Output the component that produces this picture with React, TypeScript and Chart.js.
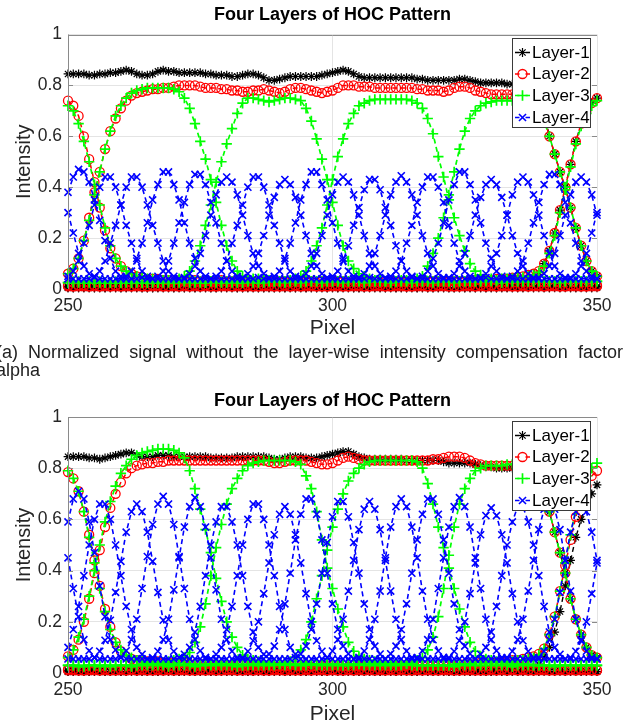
import React, { useEffect, useRef } from 'react';
import { Chart, registerables } from 'chart.js';

Chart.register(...registerables);

const FONT = "'Liberation Sans', Arial, Helvetica, sans-serif";
Chart.defaults.font.family = FONT;

// ---------- categories / ticks / labels ----------
const PIXEL = [
  250, 251, 252, 253, 254, 255, 256, 257, 258, 259,
  260, 261, 262, 263, 264, 265, 266, 267, 268, 269,
  270, 271, 272, 273, 274, 275, 276, 277, 278, 279,
  280, 281, 282, 283, 284, 285, 286, 287, 288, 289,
  290, 291, 292, 293, 294, 295, 296, 297, 298, 299,
  300, 301, 302, 303, 304, 305, 306, 307, 308, 309,
  310, 311, 312, 313, 314, 315, 316, 317, 318, 319,
  320, 321, 322, 323, 324, 325, 326, 327, 328, 329,
  330, 331, 332, 333, 334, 335, 336, 337, 338, 339,
  340, 341, 342, 343, 344, 345, 346, 347, 348, 349,
  350,
];
const Y_TICK_LABELS = ['0', '0.2', '0.4', '0.6', '0.8', '1'];
const TITLE = 'Four Layers of HOC Pattern';
const LEGEND_LABELS = ['Layer-1', 'Layer-2', 'Layer-3', 'Layer-4'];
const Y_TITLE = 'Intensity';
const X_TITLE = 'Pixel';
const CAPTION = '(a) Normalized signal without the layer-wise intensity compensation factor alpha';

// ================= PANEL (a) =================
// Layer-1 (black)
const A_K1 = [
  .845, .845, .845, .845, .84, .84, .845, .845, .85, .85,
  .855, .86, .855, .845, .84, .84, .845, .855, .86, .855,
  .855, .85, .85, .85, .85, .85, .845, .845, .84, .84,
  .84, .835, .835, .84, .845, .845, .84, .83, .82, .82,
  .825, .83, .835, .835, .835, .835, .835, .835, .84, .845,
  .85, .855, .86, .855, .845, .835, .83, .83, .83, .83,
  .83, .83, .83, .83, .83, .83, .825, .825, .82, .82,
  .82, .82, .82, .82, .825, .825, .82, .815, .81, .81,
  .81, .81, .81, .805, .805, .80, .80, .80, .79, .76,
  .69, .60, .53, .46, .40, .32, .24, .17, .11, .07,
  .05,
];
const A_K2 = [
  .005, .005, .01, .005, .005, .005, .01, .005, .005, .005,
  .005, .005, .005, .01, .005, .005, .005, .005, .01, .005,
  .005, .005, .005, .005, .005, .01, .005, .005, .005, .005,
  .005, .01, .005, .005, .005, .005, .005, .005, .01, .005,
  .005, .005, .005, .005, .01, .005, .005, .005, .005, .005,
  .01, .005, .005, .005, .005, .005, .005, .01, .005, .005,
  .005, .005, .005, .01, .005, .005, .005, .005, .005, .005,
  .005, .01, .005, .005, .005, .005, .005, .005, .01, .005,
  .005, .005, .005, .01, .01, .015, .02, .03, .045, .065,
  .10, .15, .22, .31, .40, .49, .58, .65, .70, .73,
  .75,
];
const A_K3 = [
  .01, .005, .005, .005, .01, .005, .005, .005, .005, .01,
  .005, .005, .01, .005, .005, .005, .005, .01, .005, .005,
  .005, .01, .005, .005, .005, .005, .01, .005, .005, .005,
  .01, .005, .005, .005, .005, .01, .005, .005, .005, .005,
  .005, .005, .01, .005, .005, .005, .005, .005, .01, .005,
  .005, .005, .005, .01, .005, .005, .005, .005, .005, .01,
  .005, .005, .005, .005, .005, .01, .005, .005, .005, .005,
  .01, .005, .005, .005, .005, .005, .01, .005, .005, .005,
  .005, .005, .01, .005, .005, .005, .005, .01, .005, .005,
  .005, .005, .005, .005, .01, .005, .005, .005, .005, .005,
  .005,
];
const A_K4 = [
  .005, .005, .005, .01, .005, .005, .005, .005, .01, .005,
  .005, .01, .005, .005, .005, .005, .005, .005, .005, .01,
  .005, .005, .005, .01, .005, .005, .005, .005, .005, .01,
  .005, .005, .005, .005, .01, .005, .005, .005, .005, .005,
  .01, .005, .005, .005, .005, .005, .01, .005, .005, .005,
  .005, .005, .01, .005, .005, .005, .005, .005, .01, .005,
  .005, .01, .005, .005, .005, .005, .005, .01, .005, .005,
  .005, .005, .005, .005, .01, .005, .005, .005, .005, .005,
  .01, .005, .005, .005, .005, .005, .005, .005, .005, .01,
  .005, .005, .01, .005, .005, .005, .005, .01, .005, .005,
  .01,
];
// Layer-2 (red)
const A_R1 = [
  .74, .72, .68, .60, .51, .42, .32, .23, .16, .12,
  .09, .07, .06, .05, .045, .04, .04, .04, .035, .035,
  .035, .035, .03, .03, .035, .03, .03, .03, .03, .035,
  .03, .03, .03, .03, .03, .03, .025, .03, .03, .03,
  .03, .03, .025, .03, .03, .03, .03, .025, .03, .03,
  .03, .03, .03, .025, .03, .03, .03, .03, .03, .025,
  .03, .03, .03, .03, .03, .025, .03, .03, .03, .03,
  .03, .03, .03, .03, .03, .03, .03, .035, .035, .035,
  .035, .04, .04, .04, .045, .045, .05, .055, .06, .07,
  .10, .15, .22, .31, .40, .49, .58, .65, .70, .73,
  .75,
];
const A_R2 = [
  .06, .08, .12, .19, .28, .38, .46, .55, .62, .67,
  .71, .74, .76, .77, .775, .78, .785, .785, .79, .79,
  .795, .80, .80, .80, .80, .795, .79, .79, .79, .785,
  .785, .78, .78, .775, .775, .78, .78, .785, .78, .775,
  .77, .775, .785, .79, .79, .785, .78, .775, .77, .775,
  .78, .79, .80, .80, .80, .795, .795, .795, .79, .79,
  .79, .79, .79, .79, .79, .79, .785, .785, .78, .78,
  .78, .775, .78, .79, .795, .795, .79, .78, .775, .77,
  .765, .765, .765, .765, .765, .765, .765, .76, .75, .73,
  .67, .60, .53, .46, .40, .32, .24, .17, .11, .07,
  .05,
];
const A_R3 = [
  .015, .01, .01, .015, .01, .01, .01, .015, .01, .01,
  .01, .015, .01, .01, .01, .01, .015, .01, .01, .01,
  .015, .01, .01, .01, .015, .01, .01, .01, .01, .015,
  .01, .01, .015, .01, .01, .01, .01, .015, .01, .01,
  .01, .015, .01, .01, .01, .015, .01, .01, .01, .01,
  .015, .01, .01, .01, .01, .015, .01, .01, .015, .01,
  .01, .01, .015, .01, .01, .01, .01, .015, .01, .01,
  .01, .015, .01, .01, .01, .01, .015, .01, .01, .01,
  .015, .01, .01, .015, .01, .01, .01, .01, .015, .01,
  .01, .01, .015, .01, .01, .01, .015, .01, .01, .01,
  .015,
];
const A_R4 = [
  .01, .01, .015, .01, .01, .015, .01, .01, .01, .015,
  .01, .01, .01, .015, .01, .01, .01, .015, .01, .01,
  .01, .01, .015, .01, .01, .01, .015, .01, .01, .01,
  .015, .01, .01, .01, .015, .01, .01, .01, .015, .01,
  .01, .01, .01, .015, .01, .01, .015, .01, .01, .01,
  .01, .015, .01, .01, .015, .01, .01, .01, .01, .015,
  .01, .01, .01, .015, .01, .01, .015, .01, .01, .01,
  .015, .01, .01, .01, .01, .015, .01, .01, .015, .01,
  .01, .01, .015, .01, .01, .01, .015, .01, .01, .015,
  .01, .015, .01, .01, .01, .015, .01, .01, .01, .015,
  .01,
];
// Layer-3 (green)
const A_G1 = [
  .72, .70, .65, .58, .50, .41, .33, .24, .17, .12,
  .09, .07, .06, .05, .045, .04, .04, .035, .035, .035,
  .03, .03, .03, .03, .03, .03, .025, .03, .03, .03,
  .03, .03, .03, .025, .03, .03, .03, .03, .03, .03,
  .03, .025, .03, .03, .03, .03, .03, .03, .025, .03,
  .03, .03, .03, .03, .03, .03, .025, .03, .03, .03,
  .03, .03, .03, .035, .035, .035, .04, .05, .09, .14,
  .20, .28, .37, .46, .55, .62, .67, .70, .72, .73,
  .735, .74, .74, .74, .74, .74, .74, .74, .73, .71,
  .66, .60, .53, .46, .40, .32, .24, .17, .11, .07,
  .05,
];
const A_G2 = [
  .06, .08, .12, .19, .27, .37, .46, .55, .62, .68,
  .72, .75, .77, .78, .785, .79, .79, .79, .79, .79,
  .785, .775, .75, .71, .65, .58, .51, .43, .34, .25,
  .17, .11, .07, .05, .045, .04, .04, .035, .035, .03,
  .03, .03, .03, .03, .025, .03, .03, .03, .03, .03,
  .03, .03, .025, .03, .03, .03, .03, .03, .03, .03,
  .03, .025, .03, .03, .03, .03, .03, .03, .03, .025,
  .03, .03, .03, .03, .03, .03, .03, .03, .03, .035,
  .035, .035, .04, .04, .04, .045, .045, .05, .055, .065,
  .09, .14, .21, .30, .39, .48, .57, .64, .69, .72,
  .74,
];
const A_G3 = [
  .025, .025, .03, .025, .025, .025, .03, .025, .025, .025,
  .025, .03, .025, .025, .025, .025, .03, .025, .025, .03,
  .035, .04, .05, .07, .11, .17, .25, .33, .42, .50,
  .57, .63, .69, .73, .75, .75, .745, .74, .735, .74,
  .745, .75, .75, .745, .74, .71, .66, .59, .51, .43,
  .34, .25, .17, .11, .08, .06, .05, .04, .035, .035,
  .03, .03, .03, .03, .03, .025, .03, .03, .03, .03,
  .03, .03, .03, .025, .03, .03, .03, .03, .03, .03,
  .03, .03, .025, .03, .03, .03, .03, .03, .03, .03,
  .03, .03, .03, .025, .03, .03, .03, .03, .03, .03,
  .03,
];
const A_G4 = [
  .025, .03, .025, .025, .03, .025, .025, .025, .025, .03,
  .025, .025, .025, .03, .025, .025, .025, .025, .03, .025,
  .025, .025, .03, .025, .025, .025, .025, .03, .025, .025,
  .025, .025, .025, .025, .03, .025, .025, .025, .03, .03,
  .03, .03, .035, .04, .05, .07, .11, .17, .24, .33,
  .43, .52, .59, .65, .69, .72, .73, .74, .745, .745,
  .745, .745, .745, .745, .745, .74, .73, .71, .67, .61,
  .52, .44, .35, .28, .21, .15, .10, .07, .055, .045,
  .04, .035, .035, .03, .03, .03, .03, .03, .03, .03,
  .03, .03, .03, .03, .03, .03, .03, .03, .03, .03,
  .03,
];
// Layer-4 (blue)
const A_B1 = [
  .38, .44, .47, .46, .42, .35, .27, .19, .12, .07,
  .05, .04, .04, .04, .045, .04, .04, .05, .07, .11,
  .18, .26, .34, .41, .45, .45, .41, .34, .26, .18,
  .11, .07, .05, .04, .04, .04, .045, .04, .04, .05,
  .07, .12, .18, .26, .35, .41, .46, .46, .41, .35,
  .26, .18, .12, .07, .05, .04, .04, .045, .04, .04,
  .04, .05, .07, .11, .18, .25, .34, .40, .44, .44,
  .40, .34, .25, .18, .11, .07, .05, .04, .04, .045,
  .04, .04, .04, .04, .05, .07, .11, .18, .26, .34,
  .41, .45, .45, .41, .34, .26, .18, .11, .07, .05,
  .04,
];
const A_B2 = [
  .05, .07, .11, .18, .25, .33, .40, .44, .44, .40,
  .33, .25, .18, .11, .07, .05, .04, .04, .04, .04,
  .04, .04, .045, .06, .09, .14, .21, .29, .37, .42,
  .44, .42, .37, .29, .21, .14, .09, .06, .045, .04,
  .04, .04, .04, .04, .045, .06, .09, .14, .21, .29,
  .37, .42, .44, .42, .37, .29, .21, .14, .09, .06,
  .045, .04, .04, .04, .04, .045, .04, .05, .07, .12,
  .18, .26, .35, .41, .46, .46, .41, .35, .26, .18,
  .12, .07, .05, .04, .04, .04, .04, .04, .04, .045,
  .06, .09, .14, .21, .29, .37, .42, .44, .42, .37,
  .29,
];
const A_B3 = [
  .04, .04, .04, .04, .04, .05, .07, .11, .18, .25,
  .33, .40, .44, .44, .40, .33, .25, .18, .11, .07,
  .05, .04, .04, .04, .04, .04, .04, .04, .05, .07,
  .11, .18, .25, .33, .40, .44, .44, .40, .33, .25,
  .18, .11, .07, .05, .04, .04, .04, .04, .04, .04,
  .05, .07, .11, .17, .25, .32, .39, .43, .43, .39,
  .32, .25, .17, .11, .07, .05, .04, .04, .04, .04,
  .04, .04, .045, .06, .09, .14, .21, .29, .36, .41,
  .43, .41, .36, .29, .21, .14, .09, .06, .045, .04,
  .04, .04, .04, .04, .04, .045, .06, .09, .14, .22,
  .30,
];
const A_B4 = [
  .30, .22, .14, .09, .06, .045, .04, .04, .04, .04,
  .04, .05, .07, .12, .18, .26, .35, .41, .46, .46,
  .41, .35, .26, .18, .12, .07, .05, .04, .04, .04,
  .04, .04, .04, .045, .06, .09, .14, .21, .29, .36,
  .41, .43, .41, .36, .29, .21, .14, .09, .06, .045,
  .04, .04, .04, .04, .04, .045, .06, .09, .14, .21,
  .29, .37, .42, .445, .42, .37, .29, .21, .14, .09,
  .06, .045, .04, .04, .04, .04, .04, .04, .045, .06,
  .09, .14, .21, .29, .37, .42, .44, .42, .37, .29,
  .21, .14, .09, .06, .045, .04, .04, .04, .04, .04,
  .04,
];

// ================= PANEL (b) =================
const B_K1 = [
  .845, .845, .845, .845, .84, .84, .835, .84, .845, .85,
  .855, .86, .86, .85, .845, .845, .845, .85, .85, .85,
  .845, .845, .845, .845, .845, .845, .845, .84, .84, .84,
  .84, .84, .845, .845, .845, .845, .845, .845, .84, .835,
  .835, .84, .845, .845, .845, .84, .84, .84, .845, .85,
  .855, .86, .865, .865, .855, .845, .84, .835, .835, .835,
  .835, .835, .835, .835, .83, .83, .83, .83, .83, .83,
  .83, .825, .82, .82, .82, .82, .82, .815, .81, .805,
  .805, .80, .80, .80, .80, .80, .80, .79, .77, .74,
  .70, .63, .55, .47, .39, .29, .21, .15, .10, .07,
  .06,
];
const B_K2 = [
  .005, .01, .005, .005, .005, .005, .01, .005, .005, .005,
  .005, .005, .01, .005, .005, .005, .005, .005, .01, .005,
  .005, .005, .005, .01, .005, .005, .005, .005, .005, .01,
  .005, .005, .005, .005, .005, .01, .005, .005, .005, .005,
  .01, .005, .005, .005, .005, .005, .005, .01, .005, .005,
  .005, .005, .005, .005, .01, .005, .005, .005, .005, .005,
  .005, .01, .005, .005, .005, .005, .005, .01, .005, .005,
  .005, .005, .005, .005, .005, .01, .005, .005, .005, .005,
  .005, .005, .01, .005, .005, .005, .01, .015, .02, .035,
  .06, .10, .16, .24, .34, .44, .53, .60, .66, .70,
  .735,
];
const B_K3 = [
  .005, .005, .005, .01, .005, .005, .005, .005, .005, .01,
  .005, .005, .005, .005, .01, .005, .005, .005, .005, .005,
  .01, .005, .005, .005, .005, .005, .01, .005, .005, .005,
  .005, .005, .01, .005, .005, .005, .005, .005, .005, .01,
  .005, .005, .005, .005, .01, .005, .005, .005, .005, .005,
  .005, .01, .005, .005, .005, .005, .005, .005, .01, .005,
  .005, .005, .005, .005, .01, .005, .005, .005, .005, .005,
  .01, .005, .005, .005, .005, .005, .005, .01, .005, .005,
  .005, .005, .005, .005, .01, .005, .005, .005, .005, .005,
  .01, .005, .005, .005, .005, .005, .01, .005, .005, .005,
  .005,
];
const B_K4 = [
  .01, .005, .005, .005, .005, .01, .005, .005, .005, .005,
  .005, .005, .01, .005, .005, .005, .005, .005, .01, .005,
  .005, .005, .005, .005, .005, .01, .005, .005, .005, .005,
  .005, .01, .005, .005, .005, .005, .005, .005, .01, .005,
  .005, .005, .005, .01, .005, .005, .005, .005, .005, .005,
  .01, .005, .005, .005, .005, .005, .01, .005, .005, .005,
  .005, .005, .005, .01, .005, .005, .005, .005, .005, .01,
  .005, .005, .005, .005, .005, .01, .005, .005, .005, .005,
  .005, .01, .005, .005, .005, .005, .005, .01, .005, .005,
  .005, .005, .005, .01, .005, .005, .005, .005, .005, .01,
  .005,
];
const B_R1 = [
  .785, .76, .71, .63, .54, .44, .34, .25, .18, .12,
  .085, .065, .055, .05, .045, .045, .045, .045, .04, .04,
  .04, .04, .04, .035, .035, .035, .035, .035, .03, .03,
  .03, .03, .03, .03, .03, .03, .03, .03, .03, .025,
  .025, .03, .03, .03, .03, .03, .025, .03, .03, .03,
  .03, .03, .03, .025, .03, .03, .03, .03, .03, .03,
  .03, .025, .03, .03, .03, .03, .03, .03, .03, .03,
  .03, .03, .03, .03, .035, .035, .035, .035, .04, .04,
  .04, .04, .045, .045, .05, .05, .055, .06, .065, .075,
  .095, .15, .22, .32, .42, .52, .61, .68, .73, .77,
  .79,
];
const B_R2 = [
  .065, .09, .13, .20, .29, .39, .48, .57, .645, .70,
  .745, .78, .80, .81, .815, .82, .82, .825, .825, .83,
  .83, .83, .83, .83, .83, .83, .83, .83, .83, .83,
  .83, .83, .83, .83, .83, .83, .83, .83, .825, .82,
  .82, .825, .83, .83, .83, .83, .825, .82, .815, .815,
  .82, .83, .84, .845, .84, .835, .83, .83, .83, .83,
  .83, .83, .83, .83, .83, .83, .83, .83, .83, .835,
  .835, .84, .845, .845, .845, .84, .83, .82, .815, .81,
  .81, .81, .81, .81, .81, .81, .81, .80, .78, .75,
  .70, .63, .55, .47, .39, .29, .21, .15, .10, .07,
  .06,
];
const B_R3 = [
  .01, .015, .01, .01, .01, .015, .01, .01, .01, .01,
  .015, .01, .01, .01, .015, .01, .01, .01, .01, .015,
  .01, .01, .015, .01, .01, .01, .01, .015, .01, .01,
  .01, .015, .01, .01, .01, .01, .015, .01, .01, .01,
  .015, .01, .01, .01, .01, .015, .01, .01, .015, .01,
  .01, .01, .01, .015, .01, .01, .01, .015, .01, .01,
  .01, .015, .01, .01, .01, .01, .015, .01, .01, .01,
  .01, .01, .015, .01, .01, .01, .015, .01, .01, .01,
  .015, .01, .01, .01, .015, .01, .01, .01, .01, .015,
  .01, .01, .01, .015, .01, .01, .01, .015, .01, .01,
  .01,
];
const B_R4 = [
  .015, .01, .01, .01, .015, .01, .01, .015, .01, .01,
  .01, .01, .015, .01, .01, .01, .01, .015, .01, .01,
  .01, .015, .01, .01, .01, .015, .01, .01, .01, .01,
  .015, .01, .01, .01, .015, .01, .01, .01, .01, .015,
  .01, .01, .015, .01, .01, .01, .01, .015, .01, .01,
  .015, .01, .01, .01, .01, .015, .01, .01, .01, .015,
  .01, .01, .01, .015, .01, .01, .01, .01, .015, .01,
  .01, .015, .01, .01, .01, .015, .01, .01, .01, .01,
  .01, .01, .015, .01, .01, .01, .015, .01, .01, .01,
  .015, .01, .01, .01, .01, .015, .01, .01, .015, .01,
  .01,
];
const B_G1 = [
  .79, .76, .71, .63, .53, .43, .33, .24, .17, .12,
  .09, .07, .06, .05, .045, .04, .04, .04, .035, .035,
  .035, .04, .035, .035, .035, .03, .035, .035, .035, .04,
  .035, .035, .035, .03, .035, .035, .04, .035, .035, .035,
  .035, .03, .035, .035, .035, .04, .035, .035, .035, .035,
  .035, .035, .03, .035, .035, .035, .035, .04, .035, .035,
  .035, .035, .035, .035, .04, .04, .05, .06, .09, .14,
  .22, .33, .46, .57, .66, .72, .76, .79, .80, .81,
  .81, .81, .81, .815, .815, .815, .815, .81, .80, .77,
  .71, .63, .55, .47, .39, .29, .21, .15, .10, .07,
  .06,
];
const B_G2 = [
  .06, .09, .14, .21, .30, .40, .50, .59, .67, .73,
  .78, .81, .835, .85, .86, .865, .87, .875, .875, .875,
  .87, .86, .84, .79, .72, .64, .56, .47, .37, .28,
  .20, .14, .10, .07, .055, .05, .045, .04, .04, .035,
  .035, .035, .035, .03, .03, .03, .035, .03, .03, .03,
  .03, .03, .03, .03, .03, .035, .03, .03, .03, .03,
  .03, .03, .03, .03, .035, .03, .03, .03, .03, .03,
  .03, .03, .03, .035, .035, .035, .035, .04, .04, .04,
  .04, .04, .045, .045, .045, .05, .05, .055, .06, .07,
  .095, .15, .22, .32, .43, .54, .64, .72, .77, .80,
  .82,
];
const B_G3 = [
  .03, .03, .025, .03, .03, .03, .025, .03, .03, .03,
  .03, .03, .03, .03, .035, .035, .035, .04, .04, .045,
  .05, .055, .06, .08, .12, .18, .27, .38, .49, .58,
  .66, .72, .76, .79, .81, .82, .825, .83, .83, .83,
  .83, .83, .83, .825, .815, .77, .72, .63, .52, .41,
  .33, .25, .18, .12, .085, .065, .055, .05, .045, .04,
  .04, .04, .035, .035, .035, .035, .03, .03, .03, .03,
  .03, .03, .03, .025, .03, .03, .03, .03, .03, .03,
  .03, .03, .03, .03, .025, .03, .03, .03, .03, .03,
  .03, .03, .025, .03, .03, .03, .03, .03, .03, .03,
  .03,
];
const B_G4 = [
  .03, .03, .03, .025, .03, .03, .03, .03, .025, .03,
  .03, .03, .025, .03, .03, .03, .03, .03, .03, .025,
  .03, .03, .03, .03, .025, .03, .03, .03, .03, .03,
  .03, .03, .025, .03, .03, .03, .03, .03, .03, .03,
  .035, .04, .045, .06, .09, .13, .20, .29, .38, .48,
  .57, .64, .70, .75, .78, .80, .815, .825, .83, .83,
  .83, .83, .83, .83, .83, .83, .825, .80, .74, .66,
  .57, .49, .41, .33, .25, .18, .12, .085, .065, .055,
  .05, .045, .04, .04, .035, .035, .035, .035, .03, .03,
  .03, .03, .03, .03, .03, .03, .03, .03, .03, .03,
  .03,
];
const B_B1 = [
  .59, .68, .71, .68, .59, .47, .34, .22, .13, .09,
  .06, .055, .055, .055, .055, .055, .06, .085, .13, .21,
  .325, .45, .57, .65, .685, .65, .57, .45, .325, .21,
  .13, .085, .06, .055, .055, .055, .055, .055, .074, .105,
  .17, .27, .39, .52, .62, .68, .68, .62, .52, .39,
  .27, .17, .105, .075, .055, .055, .055, .055, .055, .055,
  .055, .075, .105, .17, .27, .39, .52, .62, .68, .68,
  .62, .52, .39, .27, .17, .105, .075, .055, .055, .055,
  .055, .055, .055, .06, .085, .13, .21, .32, .44, .56,
  .64, .67, .64, .56, .44, .32, .21, .13, .085, .06,
  .055,
];
const B_B2 = [
  .10, .17, .26, .38, .50, .60, .66, .66, .60, .50,
  .38, .26, .17, .10, .073, .055, .055, .055, .055, .055,
  .055, .06, .073, .10, .16, .26, .38, .50, .59, .65,
  .65, .59, .50, .38, .26, .16, .10, .073, .055, .055,
  .055, .055, .055, .06, .074, .105, .17, .27, .39, .51,
  .61, .67, .67, .61, .51, .39, .27, .17, .105, .074,
  .055, .055, .055, .055, .055, .055, .06, .087, .13, .21,
  .33, .45, .57, .65, .685, .65, .57, .45, .33, .21,
  .13, .087, .06, .055, .055, .055, .055, .055, .055, .06,
  .085, .13, .21, .315, .44, .55, .63, .66, .63, .55,
  .44,
];
const B_B3 = [
  .055, .055, .055, .055, .055, .06, .085, .128, .206, .315,
  .436, .55, .63, .66, .63, .55, .436, .315, .206, .128,
  .085, .06, .055, .055, .055, .055, .055, .055, .073, .10,
  .17, .26, .38, .50, .60, .66, .66, .60, .50, .38,
  .26, .17, .10, .073, .055, .055, .055, .055, .055, .06,
  .086, .13, .21, .32, .44, .56, .64, .67, .64, .56,
  .44, .32, .21, .13, .086, .06, .055, .055, .055, .055,
  .055, .055, .06, .085, .126, .20, .31, .43, .54, .615,
  .645, .615, .54, .43, .31, .20, .126, .085, .06, .055,
  .055, .055, .055, .055, .055, .06, .085, .125, .20, .31,
  .43,
];
const B_B4 = [
  .45, .33, .22, .13, .087, .06, .055, .055, .055, .055,
  .061, .087, .13, .21, .33, .455, .58, .66, .69, .66,
  .58, .455, .33, .21, .13, .087, .061, .055, .055, .055,
  .055, .055, .055, .06, .085, .126, .20, .31, .43, .54,
  .62, .65, .62, .54, .43, .31, .20, .126, .085, .06,
  .055, .055, .055, .055, .055, .061, .086, .13, .21, .32,
  .45, .57, .65, .68, .65, .57, .45, .32, .21, .13,
  .086, .061, .055, .055, .055, .055, .055, .055, .073, .10,
  .16, .26, .38, .50, .59, .65, .65, .59, .50, .38,
  .26, .16, .10, .073, .055, .055, .055, .055, .055, .055,
  .055,
];

const ALL_SERIES: Record<string, number[]> = {
  A_K1, A_K2, A_K3, A_K4, A_R1, A_R2, A_R3, A_R4, A_G1, A_G2, A_G3, A_G4, A_B1, A_B2, A_B3, A_B4,
  B_K1, B_K2, B_K3, B_K4, B_R1, B_R2, B_R3, B_R4, B_G1, B_G2, B_G3, B_G4, B_B1, B_B2, B_B3, B_B4,
};
const BAD = Object.keys(ALL_SERIES).filter((k) => ALL_SERIES[k].length !== PIXEL.length);

// ---------- styles ----------
const LAYER_STYLE = [
  { color: '#000000', pointStyle: 'star', radius: 4.4, width: 1.2, line: 1.4 },
  { color: '#ff0000', pointStyle: 'circle', radius: 4.5, width: 1.3, line: 1.5 },
  { color: '#00ff00', pointStyle: 'cross', radius: 5.2, width: 1.7, line: 1.7 },
  { color: '#0000ff', pointStyle: 'crossRot', radius: 5, width: 1.6, line: 1.6 },
];

function buildDatasets(layers: number[][][]) {
  const ds: any[] = [];
  // draw order: first dataset is drawn on top -> blue, green, red, black
  for (let L = 3; L >= 0; L--) {
    const st = LAYER_STYLE[L];
    layers[L].forEach((arr) => {
      ds.push({
        data: arr.map((y, i) => ({ x: PIXEL[i], y })),
        borderColor: st.color,
        backgroundColor: 'rgba(0,0,0,0)',
        borderWidth: st.line,
        borderDash: [5, 3.5],
        pointStyle: st.pointStyle,
        pointRadius: st.radius,
        pointHoverRadius: st.radius,
        pointBorderColor: st.color,
        pointBackgroundColor: 'rgba(0,0,0,0)',
        pointBorderWidth: st.width,
        tension: 0,
        fill: false,
        clip: false,
      });
    });
  }
  return ds;
}

function drawMarker(ctx: CanvasRenderingContext2D, L: number, x: number, y: number) {
  const st = LAYER_STYLE[L];
  ctx.save();
  ctx.setLineDash([]);
  ctx.strokeStyle = st.color;
  ctx.lineWidth = st.width;
  ctx.beginPath();
  const r = st.radius;
  if (st.pointStyle === 'circle') {
    ctx.arc(x, y, r, 0, Math.PI * 2);
  } else if (st.pointStyle === 'cross') {
    ctx.moveTo(x - r, y); ctx.lineTo(x + r, y);
    ctx.moveTo(x, y - r); ctx.lineTo(x, y + r);
  } else if (st.pointStyle === 'crossRot') {
    const d = r * Math.SQRT1_2;
    ctx.moveTo(x - d, y - d); ctx.lineTo(x + d, y + d);
    ctx.moveTo(x - d, y + d); ctx.lineTo(x + d, y - d);
  } else {
    const d = r * Math.SQRT1_2;
    ctx.moveTo(x - r, y); ctx.lineTo(x + r, y);
    ctx.moveTo(x, y - r); ctx.lineTo(x, y + r);
    ctx.moveTo(x - d, y - d); ctx.lineTo(x + d, y + d);
    ctx.moveTo(x - d, y + d); ctx.lineTo(x + d, y - d);
  }
  ctx.stroke();
  ctx.restore();
}

const decorPlugin = {
  id: 'decor',
  afterDraw(chart: any, _args: any, opts: any) {
    const { ctx, chartArea: ca, scales } = chart;
    const ys = scales.y;
    ctx.save();
    ctx.setLineDash([]);
    // frame
    ctx.strokeStyle = '#8a8a8a';
    ctx.lineWidth = 1;
    ctx.beginPath();
    const top = Math.round(ca.top) + 0.5;
    const left = Math.round(ca.left) + 0.5;
    ctx.moveTo(ca.left, top); ctx.lineTo(ca.right, top);
    ctx.moveTo(left, ca.top); ctx.lineTo(left, ca.bottom);
    [0.2, 0.4, 0.6, 0.8].forEach((v) => {
      const y = Math.round(ys.getPixelForValue(v)) + 0.5;
      ctx.moveTo(ca.left, y); ctx.lineTo(ca.left + 5, y);
      ctx.moveTo(ca.right - 5, y); ctx.lineTo(ca.right, y);
    });
    ctx.stroke();

    const cx = (ca.left + ca.right) / 2;
    // title
    ctx.fillStyle = '#000000';
    ctx.font = `bold 18px ${FONT}`;
    ctx.textAlign = 'center';
    ctx.textBaseline = 'middle';
    ctx.fillText(TITLE, cx, opts.titleY);
    // x title
    ctx.fillStyle = '#262626';
    ctx.font = `21px ${FONT}`;
    ctx.fillText(X_TITLE, cx, opts.pixelY);
    // y title
    ctx.save();
    ctx.translate(24, (ca.top + ca.bottom) / 2);
    ctx.rotate(-Math.PI / 2);
    ctx.font = `20px ${FONT}`;
    ctx.fillText(Y_TITLE, 0, 0);
    ctx.restore();

    // legend
    const bx = 512, by = 38, bw = 78, bh = 89;
    ctx.fillStyle = '#ffffff';
    ctx.fillRect(bx, by, bw, bh);
    ctx.strokeStyle = '#3a3a3a';
    ctx.lineWidth = 1;
    ctx.strokeRect(bx + 0.5, by + 0.5, bw, bh);
    const rows = [52.5, 74, 95.5, 117.5];
    ctx.font = `17px ${FONT}`;
    ctx.textAlign = 'left';
    ctx.textBaseline = 'middle';
    LEGEND_LABELS.forEach((lab, L) => {
      const y = rows[L];
      const st = LAYER_STYLE[L];
      ctx.strokeStyle = st.color;
      ctx.lineWidth = 1.4;
      ctx.beginPath();
      ctx.moveTo(515, y); ctx.lineTo(519.5, y);
      ctx.moveTo(525.5, y); ctx.lineTo(530, y);
      ctx.stroke();
      drawMarker(ctx, L, 522.5, y);
      ctx.fillStyle = '#000000';
      ctx.fillText(lab, 532, y + 0.5);
    });
    ctx.restore();
  },
};

type PanelCfg = {
  layers: number[][][];
  top: number;
  height: number;
  plotTop: number;
  plotBottom: number;
  titleY: number;
  pixelY: number;
};

const PANEL_A: PanelCfg = {
  layers: [[A_K1, A_K2, A_K3, A_K4], [A_R1, A_R2, A_R3, A_R4], [A_G1, A_G2, A_G3, A_G4], [A_B1, A_B2, A_B3, A_B4]],
  top: 0, height: 345, plotTop: 34.5, plotBottom: 289, titleY: 15.5, pixelY: 328,
};
const PANEL_B: PanelCfg = {
  layers: [[B_K1, B_K2, B_K3, B_K4], [B_R1, B_R2, B_R3, B_R4], [B_G1, B_G2, B_G3, B_G4], [B_B1, B_B2, B_B3, B_B4]],
  top: 383, height: 345, plotTop: 34, plotBottom: 290, titleY: 18.5, pixelY: 331,
};

function PanelChart({ cfg }: { cfg: PanelCfg }) {
  const ref = useRef<HTMLCanvasElement | null>(null);
  useEffect(() => {
    if (!ref.current) return;
    const chart = new Chart(ref.current, {
      type: 'line',
      data: { datasets: buildDatasets(cfg.layers) },
      options: {
        responsive: false,
        animation: false,
        devicePixelRatio: 1,
        events: [],
        layout: { padding: { left: 0, right: 28, top: cfg.plotTop, bottom: 0 } },
        plugins: {
          legend: { display: false },
          tooltip: { enabled: false },
          title: { display: false },
          decor: { titleY: cfg.titleY, pixelY: cfg.pixelY },
        } as any,
        scales: {
          x: {
            type: 'linear',
            min: 250,
            max: 350,
            afterFit: (s: any) => { s.height = cfg.height - cfg.plotBottom; },
            ticks: {
              stepSize: 50,
              autoSkip: false,
              maxRotation: 0,
              padding: 7,
              color: '#262626',
              font: { family: FONT, size: 17.5 },
            },
            grid: { color: '#e4e4e4', lineWidth: 1, drawTicks: false },
            border: { display: false },
          },
          y: {
            min: 0,
            max: 1,
            afterFit: (s: any) => { s.width = 68; },
            ticks: {
              stepSize: 0.2,
              padding: 6,
              color: '#262626',
              font: { family: FONT, size: 17.5 },
              callback: (_v: any, i: number) => Y_TICK_LABELS[i],
            },
            grid: { color: '#e4e4e4', lineWidth: 1, drawTicks: false },
            border: { display: false },
          },
        },
      } as any,
      plugins: [decorPlugin as any],
    });
    return () => chart.destroy();
  }, [cfg]);
  return (
    <canvas
      ref={ref}
      width={625}
      height={cfg.height}
      style={{ position: 'absolute', left: 0, top: cfg.top, width: 625, height: cfg.height }}
    />
  );
}

export default function App() {
  return (
    <div style={{ position: 'absolute', left: 0, top: 0, width: 625, height: 728, overflow: 'hidden', background: '#ffffff' }}>
      <PanelChart cfg={PANEL_A} />
      <div
        style={{
          position: 'absolute',
          left: -4,
          top: 343,
          width: 627,
          fontFamily: FONT,
          fontSize: 18,
          lineHeight: '18px',
          color: '#222222',
          textAlign: 'justify',
        }}
      >
        {CAPTION}
      </div>
      <PanelChart cfg={PANEL_B} />
      {BAD.length > 0 && (
        <div style={{ position: 'absolute', left: 100, top: 200, color: 'magenta', fontSize: 20 }}>
          BAD: {BAD.map((k) => `${k}:${ALL_SERIES[k].length}`).join(' ')}
        </div>
      )}
    </div>
  );
}
